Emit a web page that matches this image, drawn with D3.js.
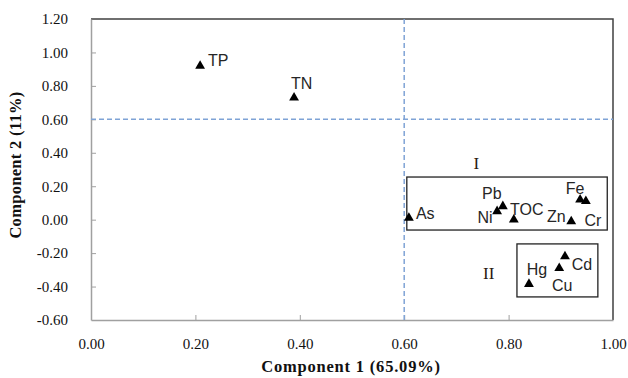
<!DOCTYPE html>
<html><head><meta charset="utf-8">
<script src="https://cdn.jsdelivr.net/npm/d3@7"></script>
<style>body{margin:0;background:#fff}</style>
</head><body>
<svg id="c" width="628" height="378"></svg>
<script>
// ---- data ----
const names = ["TP","TN","As","Ni","Pb","TOC","Zn","Fe","Cr","Cd","Cu","Hg"];
const comp1 = [0.209,0.389,0.609,0.778,0.789,0.810,0.920,0.937,0.948,0.908,0.897,0.839];
const comp2 = [0.92,0.73,0.01,0.05,0.08,0.00,-0.01,0.12,0.11,-0.22,-0.29,-0.385];
const xTicks = [0,0.2,0.4,0.6,0.8,1.0];
const yTicks = [-0.6,-0.4,-0.2,0,0.2,0.4,0.6,0.8,1.0,1.2];
const groupNames = ["I","II"];
const groupX0 = [0.605,0.816], groupX1 = [0.989,0.971];
const groupY0 = [-0.062,-0.462], groupY1 = [0.255,-0.145];
const groupLabelX = [0.738,0.762], groupLabelY = [0.34,-0.32];
const refX = 0.6, refY = 0.6;

// label placement (pixel offsets from marker)
const lab = {TP:[8,-5,"start"],TN:[-3,-14,"start"],As:[7,-5,"start"],Ni:[-12,6,"middle"],
  Pb:[-11,-13,"middle"],TOC:[13,-10,"middle"],Zn:[-15,-5,"middle"],Fe:[-5,-11,"middle"],
  Cr:[7,19,"middle"],Cd:[17,8,"middle"],Cu:[3,17,"middle"],Hg:[8,-15,"middle"]};

const svg = d3.select("#c");
const x = d3.scaleLinear().domain([0,1]).range([91,613]);
const y = d3.scaleLinear().domain([-0.6,1.2]).range([320,19]);
const serif = "'Liberation Serif','Times New Roman',serif";
const fmt = d => d3.format(".2f")(d).replace("\u2212","-");

// top & right border
svg.append("path").attr("d",`M${x(0)},${y(1.2)}H${x(1)}V${y(-0.6)}`)
  .attr("fill","none").attr("stroke","#404040").attr("stroke-width",1.5);

// axes
const xa = svg.append("g").attr("transform",`translate(0,${y(-0.6)})`)
  .call(d3.axisBottom(x).tickValues(xTicks).tickSizeInner(-5).tickSizeOuter(0).tickPadding(18).tickFormat(fmt));
const ya = svg.append("g").attr("transform",`translate(${x(0)},0)`)
  .call(d3.axisLeft(y).tickValues(yTicks).tickSizeInner(-5).tickSizeOuter(0).tickPadding(23).tickFormat(fmt));
[xa,ya].forEach(g=>{
  g.select(".domain").attr("stroke","#a0a0a0").attr("stroke-width",1.5);
  g.selectAll(".tick line").attr("stroke","#a0a0a0").attr("stroke-width",1);
  g.selectAll(".tick text").attr("font-family",serif).attr("font-size",15).attr("fill","#111");
});
ya.selectAll(".tick line").filter(d=>d===1.2||d===-0.6).remove();
xa.selectAll(".tick line").filter(d=>d===0||d===1).remove();

// reference dashed lines
svg.append("line").attr("x1",x(refX)).attr("x2",x(refX)).attr("y1",y(1.2)).attr("y2",y(-0.6))
  .attr("stroke","#7fa3d6").attr("stroke-width",1.5).attr("stroke-dasharray","5,3");
svg.append("line").attr("x1",x(0)).attr("x2",x(1)).attr("y1",y(refY)).attr("y2",y(refY))
  .attr("stroke","#7fa3d6").attr("stroke-width",1.5).attr("stroke-dasharray","5,3");

// group boxes
groupNames.forEach((g,i)=>{
  svg.append("rect").attr("x",x(groupX0[i])).attr("y",y(groupY1[i]))
    .attr("width",x(groupX1[i])-x(groupX0[i])).attr("height",y(groupY0[i])-y(groupY1[i]))
    .attr("fill","none").attr("stroke","#222").attr("stroke-width",1.3);
  svg.append("text").attr("x",x(groupLabelX[i])).attr("y",y(groupLabelY[i]))
    .attr("text-anchor","middle").attr("dy","0.35em").attr("font-family",serif)
    .attr("font-size",17).attr("fill","#2a1a10").text(g);
});

// points
const sym = d3.symbol().type(d3.symbolTriangle).size(42);
names.forEach((n,i)=>{
  const px = x(comp1[i]), py = y(comp2[i]);
  svg.append("path").attr("d",sym()).attr("transform",`translate(${px},${py})`).attr("fill","#000");
  const o = lab[n];
  svg.append("text").attr("x",px+o[0]).attr("y",py+o[1]).attr("dy","0.35em")
    .attr("text-anchor",o[2]).attr("font-family","'Liberation Sans',Arial,sans-serif")
    .attr("font-size",16).attr("fill","#262626").text(n);
});

// axis titles
svg.append("text").attr("x",351).attr("y",372).attr("text-anchor","middle")
  .attr("font-family",serif).attr("font-weight","bold").attr("font-size",16.5).attr("letter-spacing",0.8).attr("fill","#111")
  .text("Component  1 (65.09%)");
svg.append("text").attr("transform","translate(21,165) rotate(-90)").attr("text-anchor","middle")
  .attr("font-family",serif).attr("font-weight","bold").attr("font-size",16.5).attr("letter-spacing",0.3).attr("fill","#111")
  .text("Component  2 (11%)");
</script>
</body></html>
